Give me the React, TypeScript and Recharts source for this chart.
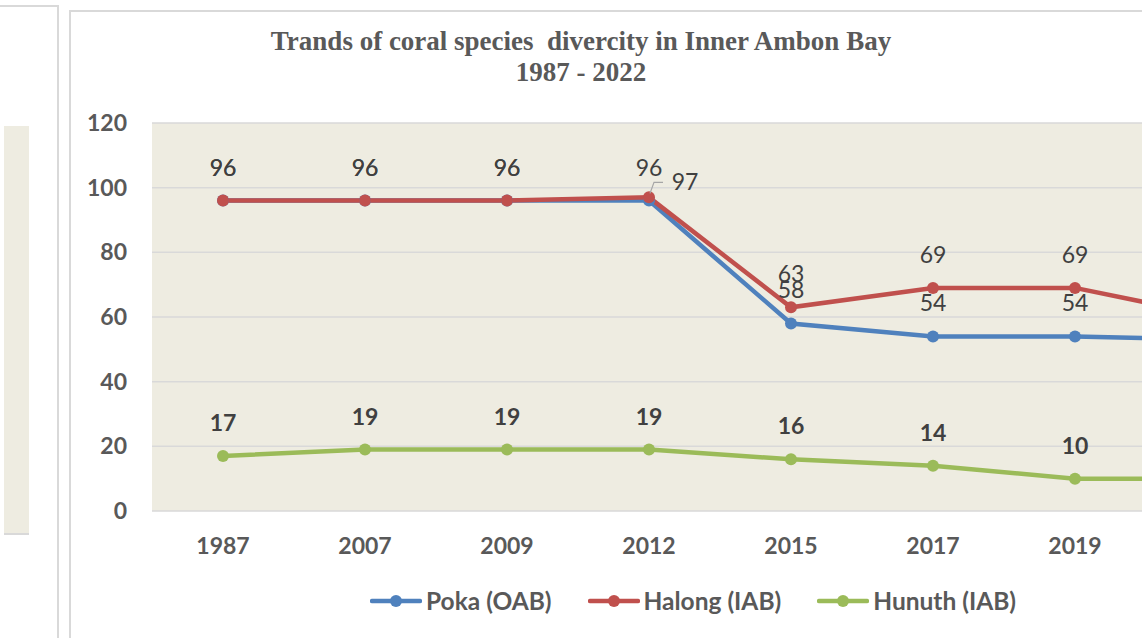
import React from "react";
import { LineChart, Line, XAxis, YAxis, CartesianGrid, LabelList } from "recharts";

const years = ["1987", "2007", "2009", "2012", "2015", "2017", "2019", "2022"];
const poka = [96, 96, 96, 96, 58, 54, 54, 53];
const halong = [96, 96, 96, 97, 63, 69, 69, 60];
const hunuth = [17, 19, 19, 19, 16, 14, 10, 10];
const yTicks = [0, 20, 40, 60, 80, 100, 120];

const seriesNames = ["Poka (OAB)", "Halong (IAB)", "Hunuth (IAB)"];
const seriesKeys = ["poka", "halong", "hunuth"];
const seriesColors = ["#4F81BD", "#C0504D", "#9BBB59"];

const data = years.map((year, i) => ({
  year,
  poka: poka[i],
  halong: halong[i],
  hunuth: hunuth[i],
}));

const FONT = "Lato, 'Open Sans', sans-serif";
const GRID = "#D9D9D9";
const BG = "#EEECE1";

const makeLabel = (bold: boolean, special?: (p: any) => React.ReactNode) => (p: any) => {
  const { x, y, value } = p;
  if (x == null || y == null) return null;
  if (special) {
    const r = special(p);
    if (r !== undefined) return r;
  }
  return (
    <text
      x={x}
      y={y - 34}
      textAnchor="middle"
      dominantBaseline="central"
      fontFamily={FONT}
      fontSize={23}
      fontWeight={bold ? 700 : 400}
      fill="#404040"
    >
      {value}
    </text>
  );
};

const halongSpecial = (p: any) => {
  const { x, y, value, index } = p;
  if (index !== 3) return undefined;
  return (
    <g>
      <polyline
        points={`${x + 1},${y - 4} ${x + 5},${y - 15} ${x + 14},${y - 15}`}
        fill="none"
        stroke="#A6A6A6"
        strokeWidth={1.2}
      />
      <text
        x={x + 36}
        y={y - 16}
        textAnchor="middle"
        dominantBaseline="central"
        fontFamily={FONT}
        fontSize={23}
        fill="#404040"
      >
        {value}
      </text>
    </g>
  );
};

const LegendBlock = () => (
  <div
    style={{
      position: "absolute",
      left: 370,
      top: 588,
      display: "flex",
      alignItems: "center",
      fontFamily: FONT,
      fontSize: 24.5,
      fontWeight: 700,
      color: "#595959",
      lineHeight: "26px",
      whiteSpace: "nowrap",
    }}
  >
    {seriesNames.map((name, i) => (
      <div key={name} style={{ display: "flex", alignItems: "center", marginRight: i === 2 ? 0 : 36 }}>
        <svg width={52} height={16} style={{ marginRight: 4 }}>
          <line x1={2} y1={8} x2={50} y2={8} stroke={seriesColors[i]} strokeWidth={4.5} strokeLinecap="round" />
          <circle cx={26} cy={8} r={6} fill={seriesColors[i]} />
        </svg>
        <span>{name}</span>
      </div>
    ))}
  </div>
);

export default function App() {
  return (
    <div style={{ position: "absolute", left: 0, top: 0, width: 1142, height: 638, overflow: "hidden", background: "#fff" }}>
      <div style={{ position: "absolute", left: 0, top: 5, width: 58, height: 2, background: GRID }} />
      <div style={{ position: "absolute", left: 57, top: 5, width: 2, height: 640, background: GRID }} />
      <div style={{ position: "absolute", left: 4, top: 126, width: 25, height: 407, background: BG, borderBottom: `2px solid ${GRID}` }} />
      <div style={{ position: "absolute", left: 69, top: 10, width: 1100, height: 2, background: GRID }} />
      <div style={{ position: "absolute", left: 69, top: 10, width: 2, height: 640, background: GRID }} />
      <div
        style={{
          position: "absolute",
          left: 231,
          top: 26,
          width: 700,
          textAlign: "center",
          fontFamily: "'Liberation Serif', 'Times New Roman', serif",
          fontWeight: 700,
          fontSize: 27,
          lineHeight: "31px",
          color: "#595959",
          whiteSpace: "nowrap",
        }}
      >
        <div>Trands of coral species&nbsp; divercity in Inner Ambon Bay</div>
        <div>1987 - 2022</div>
      </div>
      <div style={{ position: "absolute", left: 70, top: 0 }}>
        <LineChart width={1228} height={638} data={data} margin={{ top: 123, right: 10, bottom: 87, left: 0 }}>
          <CartesianGrid horizontal vertical={false} fill={BG} stroke={GRID} strokeWidth={1.5} />
          <XAxis
            dataKey="year"
            height={40}
            padding={{ left: 71, right: 71 }}
            axisLine={false}
            tickLine={false}
            tickMargin={21}
            interval={0}
            tick={{ fontFamily: FONT, fontSize: 23, fontWeight: 700, fill: "#595959" }}
          />
          <YAxis
            width={82}
            domain={[0, 120]}
            ticks={yTicks}
            axisLine={false}
            tickLine={false}
            tickMargin={19}
            tick={{ fontFamily: FONT, fontSize: 23, fontWeight: 700, fill: "#595959" }}
          />
          {seriesKeys.map((k, i) => (
            <Line
              key={k}
              type="linear"
              dataKey={k}
              name={seriesNames[i]}
              stroke={seriesColors[i]}
              strokeWidth={4.5}
              dot={{ r: 6, fill: seriesColors[i], stroke: seriesColors[i], strokeWidth: 0 }}
              activeDot={false}
              isAnimationActive={false}
            >
              <LabelList dataKey={k} content={makeLabel(i === 2, i === 1 ? halongSpecial : undefined)} />
            </Line>
          ))}
        </LineChart>
      </div>
      <LegendBlock />
    </div>
  );
}
